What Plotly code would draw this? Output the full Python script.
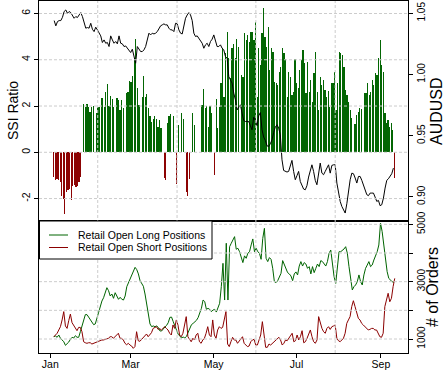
import pandas as pd
import plotly.graph_objects as go

# ---------------- data ----------------
ssi_start, ssi_end = "2013-01-03 13:37", "2013-09-10 21:40"
ssi_ratio = [
    -1.05, -1.2, -1.15, -1.2, -1.3, -1.9, -2.0, -2.65, -1.7, -1.65,
    -1.6, -2.05, -1.45, -1.4, -1.5, -1.45, -1.3, -1.05, None, 2.09,
    1.97, 2.1, 1.97, 1.75, 1.97, 2.0, None, 1.7, 1.97, 1.97,
    2.33, 2.33, 1.95, 2.6, 2.95, 2.0, 2.45, 2.3, 1.97, None,
    2.33, 2.26, 1.83, 2.26, 1.9, None, 2.55, 2.6, 3.1, 3.05,
    3.3, 4.06, 4.9, 2.8, 2.05, None, 2.4, 3.3, 2.4, 2.5,
    1.93, 1.55, 1.33, 1.45, 1.55, 1.45, 1.1, 1.4, 1.05, None,
    -1.1, -1.2, 1.25, 1.55, 1.65, None, 1.55, None, -1.35, 1.2,
    None, 1.7, 1.45, None, -1.7, -1.9, -1.15, None, 1.7, 1.2,
    None, None, None, None, 2.05, 2.75, 1.9, 2.0, 1.1, 2.0,
    1.7, None, -1.0, 2.3, 1.05, 1.95, 3.0, 4.5, 2.4, 4.3,
    5.2, 4.06, 3.2, 4.5, 4.7, 4.06, 4.9, 4.57, None, 3.34,
    3.27, 5.14, 4.86, 5.07, 4.78, 5.22, 5.22, 4.86, 5.65, 2.41,
    4.5, 3.78, 5.14, 6.22, 5.0, 4.57, 5.43, 3.56, 4.5, 4.35,
    3.05, 2.98, 2.91, 3.49, 3.7, 4.5, 4.28, 4.02, 2.41, 3.49,
    3.27, 2.48, 2.62, 4.02, 2.98, 2.77, 3.56, 4.0, 4.42, 3.85,
    2.55, 3.92, 2.62, 3.13, 2.19, 3.41, 4.35, 2.62, 1.83, 3.27,
    2.91, 3.13, 2.69, 2.41, 2.67, 1.97, 2.98, 2.98, 3.49, 1.83,
    2.98, 4.35, 4.28, 4.21, 3.7, 2.69, 2.48, 2.19, 1.83, 1.47,
    None, 1.22, 1.61, 1.76, 1.9, 1.86, None, 2.55, 2.55, 2.98,
    2.48, 2.62, 3.13, 2.91, 3.41, 3.34, 4.06, 4.86, 3.78, 3.49,
    1.69, 1.25, 1.4, 1.11, 1.28, 0.97, -1.1,
]

aud_start, aud_end = "2013-01-03 19:28", "2013-09-10 04:30"
audusd = [
    1.0440, 1.0397, 1.0432, 1.0440, 1.0440, 1.0467, 1.0514, 1.0527, 1.0500, 1.0514,
    1.0505, 1.0486, 1.0459, 1.0473, 1.0465, 1.0486, 1.0505, 1.0473, 1.0413, 1.0378,
    1.0383, 1.0378, 1.0418, 1.0369, 1.0350, 1.0386, 1.0364, 1.0337, 1.0315, 1.0261,
    1.0282, 1.0255, 1.0261, 1.0228, 1.0315, 1.0282, 1.0255, 1.0269, 1.0250, 1.0315,
    1.0255, 1.0250, 1.0228, 1.0233, 1.0214, 1.0201, 1.0179, 1.0206, 1.0146, 1.0092,
    1.0228, 1.0201, 1.0187, 1.0187, 1.0201, 1.0228, 1.0288, 1.0337, 1.0323, 1.0337,
    1.0331, 1.0337, 1.0350, 1.0378, 1.0397, 1.0405, 1.0413, 1.0405, 1.0405, 1.0378,
    1.0364, 1.0364, 1.0350, 1.0418, 1.0413, 1.0364, 1.0337, 1.0331, 1.0391, 1.0459,
    1.0486, 1.0505, 1.0486, 1.0440, 1.0337, 1.0310, 1.0315, 1.0296, 1.0269, 1.0255,
    1.0214, 1.0242, 1.0255, 1.0228, 1.0269, 1.0288, 1.0323, 1.0269, 1.0228, 1.0228,
    1.0242, 1.0214, 1.0201, 1.0146, 1.0133, 0.9983, 0.9956, 0.9929, 0.9847, 0.9793,
    0.9711, 0.9738, 0.9752,
    0.9684, 0.9624, 0.9616, 0.9616, 0.9616, 0.9581, 0.9548, 0.9651, 0.9624, 0.9581,
    0.9662, 0.9689, 0.9548, 0.9488, 0.9461, 0.9417, 0.9412, 0.9434, 0.9466, 0.9526,
    0.9570, 0.9589, 0.9562, 0.9507, 0.9303, 0.9216, 0.9208, 0.9203, 0.9208, 0.9254,
    0.9298, 0.9208, 0.9140, 0.9173, 0.9208, 0.9126, 0.9099, 0.9064, 0.9058, 0.9091,
    0.9162, 0.9216, 0.9262, 0.9208, 0.9135, 0.9099,
    0.9208, 0.9276, 0.9194, 0.9181, 0.9208, 0.9241, 0.9262, 0.9194, 0.9257, 0.9262,
    0.9262, 0.9113, 0.9031, 0.8963, 0.8922, 0.8895, 0.8868, 0.8944, 0.9045, 0.9140,
    0.9194, 0.9189, 0.9154, 0.9113, 0.9167, 0.9167, 0.9135, 0.9094, 0.9064, 0.9018,
    0.9010, 0.9031, 0.9031, 0.9031, 0.8998, 0.8963, 0.8971, 0.8928, 0.8936, 0.8990,
    0.9072, 0.9135, 0.9148, 0.9173, 0.9189, 0.9235,
]

long_start, long_end = "2013-01-03 13:37", "2013-09-10 10:48"
long_orders = [
    1080, 1105, 1060, 1140, 1025, 965, 905, 780, 825, 895,
    990, 1060, 1035, 1115, 1060, 1060, 1255, 1490, 1720, 1850,
    1850, 1755, 1685, 1570, 1500, 1525, 1720, 1955, 2185, 2325,
    2440, 2595, 2790, 2685, 2500, 2570, 2420, 2615, 2500, 2385,
    2455, 2385, 2360, 2500, 2825, 2965, 3080, 3245, 3405, 3500,
    3420, 3270, 3035, 2920, 2840, 2570, 2185, 1835, 1525, 1430,
    1455, 1430, 1455, 1405, 1280, 1280, 1360, 1420, 1475, 1570,
    1755, 1765, 1605, 1455, 1290, 1165, 1105, 1035, 1070, 1035,
    1095, 1235, 1350, 1500, 1545, 1595, 1650, 1745, 1895, 2070,
    2360, 2305, 2035, 2070, 2035, 1955, 2010, 2035, 1940, 2070,
    2245, 2825, 3640,
    2360, 4340, 2360, 4220, 4340, 4455, 4570, 4130, 4165, 4045,
    3875, 3665, 3900, 3815, 3990, 4045, 4280, 4490, 4045, 4165,
    4045, 3990, 3780, 4510, 4860, 3815, 3700, 3840, 3780, 3465,
    3000, 2965, 3035, 3200, 3290, 3735, 3580, 3430, 3315, 3270,
    3200, 3035, 3270, 3340, 3235, 3545, 3700, 3545, 3665, 3615,
    3465, 3525, 3270, 3525, 3315, 3465, 3615, 3525, 3735, 3700,
    3640, 3545, 3700, 3990, 4105, 3525, 3175, 2940, 3640, 4045,
    4045, 4080, 4140, 4220, 3990, 3525, 3000, 2710, 2825, 2885,
    3000, 3235, 3000, 2885, 3235, 3465, 3580, 3700, 3525, 3580,
    3755, 3875, 4045, 4280, 5040, 4745, 4280, 3930, 3350, 3115,
    3035, 3000, 2975,
]

short_start, short_end = "2013-01-03 13:37", "2013-09-11 04:20"
short_orders = [
    1080, 1140, 1200, 1315, 1430, 1665, 1955, 1455, 1370, 1640,
    1870, 1570, 1490, 1370, 1290, 1405, 1405, 1255, 905, 870,
    850, 870, 870, 825, 850, 870, 905, 905, 940, 965,
    965, 990, 1025, 1025, 1080, 1080, 1025, 1080, 1140, 1200,
    1025, 1025, 965, 850, 800, 850, 790, 755, 675, 735,
    1255, 940, 920, 990, 1060, 1115, 1175, 1080, 1140, 1220,
    1370, 1395, 1430, 1335, 1360, 1315, 1360, 1430, 1370, 1315,
    1200, 1140, 1490, 1370, 1665, 1490, 1140, 1080, 1200, 1455,
    1780, 1080, 965, 905, 1025, 965, 1140, 1200, 905, 850,
    965, 1025, 1200, 1430, 1140, 1080, 1665, 1140, 1025, 1315,
    1430, 1370, 1405,
    1665, 1955, 825, 735, 905, 1060, 965, 965, 850, 940,
    1025, 1080, 850, 790, 735, 755, 905, 965, 990, 790,
    790, 965, 1140, 1605, 1140, 710, 710, 825, 790, 850,
    905, 965, 1025, 1060, 965, 790, 850, 965, 940, 1025,
    1140, 1200, 905, 940, 1140, 965, 1080, 1290, 870, 905,
    1025, 1200, 1315, 1080, 905, 850, 965, 1780, 1545, 1370,
    1255, 1200, 1370, 1430, 1335, 1430, 1455, 1490, 1025, 940,
    905, 965, 1025, 1200, 1545, 1665, 1780, 2130, 2335, 2130,
    1895, 1720, 1665, 1545, 1490, 1430, 1370, 1315, 1335, 1370,
    1370, 1315, 1315, 1200, 1080, 1060, 1200, 2130, 2420, 2595,
    2300, 2420, 2825, 3115,
]

month_ticks = ["2013-01-01", "2013-03-01", "2013-05-01", "2013-07-01", "2013-09-01"]
month_labels = ["Jan", "Mar", "May", "Jul", "Sep"]
grid_dates = ["2013-02-04 20:10", "2013-04-04 03:30", "2013-06-01 02:10", "2013-07-29 09:40"]
ssi_ticks = [-2, 0, 2, 4, 6]
ssi_labels = ["-2", "0", "2", "4", "6"]
aud_ticks = [0.90, 0.95, 1.00, 1.05]
aud_labels = ["0.90", "0.95", "1.00", "1.05"]
order_ticks = [1000, 2000, 3000, 4000, 5000]
order_labels = ["1000", "", "3000", "", "5000"]
legend_names = ["Retail Open Long Positions", "Retail Open Short Positions"]

# ---------------- build ----------------
GREEN = "#006400"
RED = "#8B0000"
GREEN_BAR = "rgba(0,100,0,0.99)"
RED_BAR = "rgba(139,0,0,0.99)"
GRID = "#cccccc"
FONT = "Liberation Sans, Arial, sans-serif"

ssi_x = pd.date_range(ssi_start, ssi_end, periods=len(ssi_ratio))
aud_x = pd.date_range(aud_start, aud_end, periods=len(audusd))
long_x = pd.date_range(long_start, long_end, periods=len(long_orders))
short_x = pd.date_range(short_start, short_end, periods=len(short_orders))

pos_x = [d for d, v in zip(ssi_x, ssi_ratio) if v is not None and v > 0]
pos_y = [v for v in ssi_ratio if v is not None and v > 0]
neg_x = [d for d, v in zip(ssi_x, ssi_ratio) if v is not None and v < 0]
neg_y = [v for v in ssi_ratio if v is not None and v < 0]
bar_w = 0.9 * 86400000

fig = go.Figure()
fig.add_trace(go.Bar(x=pos_x, y=pos_y, width=bar_w,
                     marker=dict(color=GREEN_BAR, line=dict(width=0)),
                     xaxis="x2", yaxis="y", showlegend=False, name="SSI long"))
fig.add_trace(go.Bar(x=neg_x, y=neg_y, width=bar_w,
                     marker=dict(color=RED_BAR, line=dict(width=0)),
                     xaxis="x2", yaxis="y", showlegend=False, name="SSI short"))
fig.add_trace(go.Scatter(x=aud_x, y=audusd, mode="lines", line=dict(color="black", width=1),
                         xaxis="x2", yaxis="y2", showlegend=False, name="AUDUSD"))
fig.add_trace(go.Scatter(x=long_x, y=long_orders, mode="lines", line=dict(color=GREEN, width=1),
                         xaxis="x", yaxis="y3", name=legend_names[0], showlegend=False))
fig.add_trace(go.Scatter(x=short_x, y=short_orders, mode="lines", line=dict(color=RED, width=1),
                         xaxis="x", yaxis="y3", name=legend_names[1], showlegend=False))

xr = ["2012-12-23 16:00", "2013-09-20 22:00"]
split = 0.375
common_axis = dict(showgrid=False, zeroline=False, linecolor="black", linewidth=1,
                   tickcolor="black", ticklen=4, tickwidth=1, automargin=False)

dash = "3px,2px"
shapes = []
for g in grid_dates:
    shapes.append(dict(type="line", xref="x", yref="paper", x0=g, x1=g, y0=0, y1=1,
                       line=dict(color=GRID, width=1, dash=dash), layer="above"))
for t in ssi_ticks:
    shapes.append(dict(type="line", xref="paper", yref="y", x0=0, x1=1, y0=t, y1=t,
                       line=dict(color=GRID, width=1, dash=dash), layer="above"))
for t in order_ticks:
    shapes.append(dict(type="line", xref="paper", yref="y3", x0=0, x1=1, y0=t, y1=t,
                       line=dict(color=GRID, width=1, dash=dash), layer="above"))

# legend box (drawn like the reference's boxed key)
PW, PH, L, T = 369.0, 352.0, 39.0, 1.0
def px_x(px):
    return (px - L) / PW
def px_y(py):
    return (T + PH - py) / PH

shapes.append(dict(type="rect", xref="paper", yref="paper",
                   x0=px_x(39.5), x1=px_x(212), y0=px_y(259), y1=px_y(221),
                   line=dict(color="black", width=1), fillcolor="white", layer="above"))
annotations = []
for name, col, py in [(legend_names[0], GREEN, 235), (legend_names[1], RED, 247.5)]:
    shapes.append(dict(type="line", xref="paper", yref="paper",
                       x0=px_x(49), x1=px_x(68), y0=px_y(py), y1=px_y(py),
                       line=dict(color=col, width=1), layer="above"))
    annotations.append(dict(text=name, xref="paper", yref="paper", x=px_x(76), y=px_y(py),
                            xanchor="left", yanchor="middle", showarrow=False,
                            font=dict(size=10.5, color="black")))

# axis titles
annotations.append(dict(text="SSI Ratio", xref="paper", yref="paper", x=px_x(13), y=px_y(111),
                        textangle=-90, showarrow=False, xanchor="center", yanchor="middle",
                        font=dict(size=14)))
annotations.append(dict(text="AUDUSD", xref="paper", yref="paper", x=px_x(436), y=px_y(111),
                        textangle=-90, showarrow=False, xanchor="center", yanchor="middle",
                        font=dict(size=16)))
annotations.append(dict(text="# of Orders", xref="paper", yref="paper", x=px_x(432), y=px_y(287),
                        textangle=-90, showarrow=False, xanchor="center", yanchor="middle",
                        font=dict(size=16)))

fig.update_layout(
    width=444, height=371,
    margin=dict(l=39, r=36, t=1, b=18),
    paper_bgcolor="white", plot_bgcolor="white",
    font=dict(family=FONT, size=11, color="black"),
    barmode="overlay", bargap=0,
    showlegend=False,
    xaxis=dict(domain=[0, 1], anchor="y3", type="date", range=xr,
               tickvals=month_ticks, ticktext=month_labels, ticks="outside",
               showline=True, mirror=True, ticklabelstandoff=-3,
               tickfont=dict(size=10.5), **common_axis),
    xaxis2=dict(domain=[0, 1], anchor="y", type="date", matches="x",
                showticklabels=False, ticks="", showline=True, mirror=True,
                **common_axis),
    yaxis=dict(domain=[split, 1], anchor="x2", range=[-2.97, 6.54],
               tickvals=ssi_ticks, ticktext=ssi_labels, tickangle=-90, ticks="outside",
               showline=True, mirror=True, tickfont=dict(size=10.5), **common_axis),
    yaxis2=dict(overlaying="y", side="right", anchor="x2", range=[0.8803, 1.0600],
                tickvals=aud_ticks, ticktext=aud_labels, tickangle=-90, ticks="outside",
                showline=False, tickfont=dict(size=10), **common_axis),
    yaxis3=dict(domain=[0, split], anchor="x", side="right", range=[512, 5116],
                tickvals=order_ticks, ticktext=order_labels, tickangle=-90, ticks="outside",
                showline=True, mirror=True, tickfont=dict(size=10), **common_axis),
    shapes=shapes,
    annotations=annotations,
)

fig.write_html("out.html", config={"displayModeBar": False},
               post_script="document.body.style.margin='0px';document.body.style.overflow='hidden';")
